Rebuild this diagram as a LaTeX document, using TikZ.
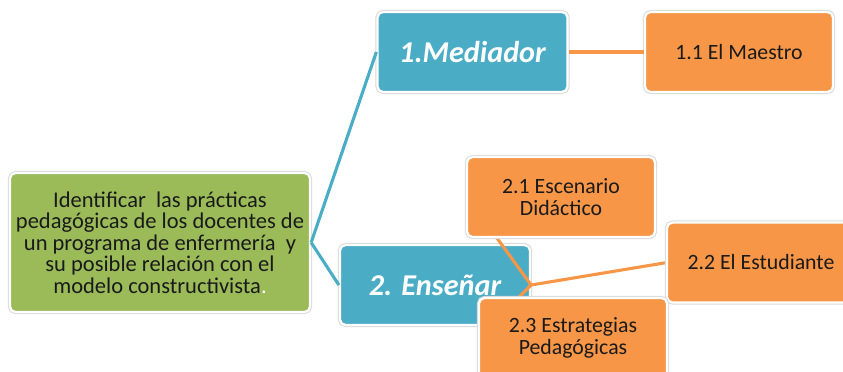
\documentclass[tikz,border=0pt]{standalone}
\usepackage{fontspec}
\setmainfont{Carlito}
\definecolor{verde}{HTML}{9BBB59}
\definecolor{azul}{HTML}{4BACC6}
\definecolor{naranja}{HTML}{F79646}
\definecolor{texto}{HTML}{1A1A1A}
\tikzset{
  caja/.style={rectangle, rounded corners=4pt, draw=white, line width=1.6pt,
    preaction={draw=black!15, line width=3pt}, align=center},
  raiz/.style={caja, fill=verde, text=texto, minimum width=7.5cm, minimum height=3.475cm,
    font=\fontsize{16}{15.3}\selectfont},
  rama/.style={caja, fill=azul, text=white, minimum width=4.75cm, minimum height=2cm,
    font=\fontsize{21.5}{24}\selectfont\bfseries\itshape},
  hoja/.style={caja, fill=naranja, text=texto, minimum width=4.7cm, minimum height=2cm,
    font=\fontsize{15.5}{16}\selectfont},
  azulink/.style={draw=azul, line width=2.2pt},
  naranjalink/.style={draw=naranja, line width=2.2pt}
}
\begin{document}
\begin{tikzpicture}[x=0.025cm, y=-0.025cm]
      \useasboundingbox (0,0) rectangle (843,371);
      \clip (0,0) rectangle (843,371);
      \node[raiz] (obj) at (160,242.5){Identificar\ \ las prácticas\\pedagógicas de los docentes de\\un programa de enfermería\ \ y\\su posible relación con el\\modelo constructivista\textcolor{white}{.}};
      \node[rama] (med) at (472.5,52){1.Mediador};
      \node[rama] (ens) at (435,285){2. Enseñar};
      \draw[azulink](obj.east) -- (med.west);
      \draw[azulink](obj.east) -- (ens.west);

      \node[hoja] (maes) at (739,52){1.1 El Maestro};
      \draw[naranjalink](med.east) -- (maes.west);
      \coordinate (esc-w) at (467,197);
      \coordinate (est-w) at (667,262.5);
      \coordinate (estr-w) at (478,338);
      \draw[naranjalink](ens.east) -- (esc-w);
      \draw[naranjalink](ens.east) -- (est-w);
      \draw[naranjalink](ens.east) -- (estr-w);
      \node[hoja] (esc) at (561,197){2.1 Escenario\\Didáctico};
      \node[hoja] (est) at (761,262.5){2.2 El Estudiante};
      \node[hoja] (estr) at (573,338){2.3 Estrategias\\Pedagógicas};

    \end{tikzpicture}
\end{document}
